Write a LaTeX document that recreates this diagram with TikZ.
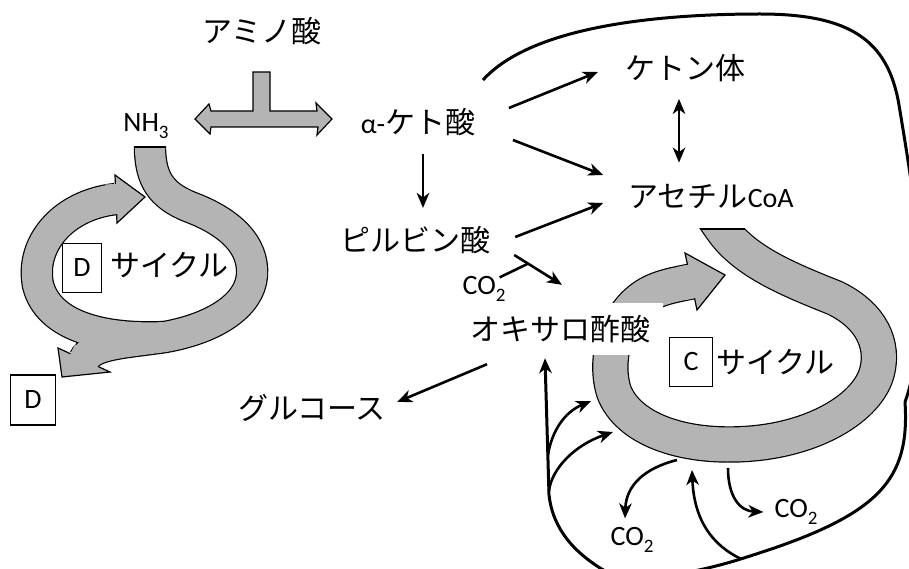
\documentclass[tikz,border=0pt]{standalone}
\usepackage{fontspec}
\setmainfont{Carlito}
\newfontfamily\jp{Noto Sans CJK JP}
\usetikzlibrary{arrows.meta}
\definecolor{bandgray}{RGB}{180,180,180}
\newcommand\lsub[1]{\raisebox{-0.5ex}{\fontsize{19}{19}\selectfont #1}}
\newcommand\J[1]{{\fontsize{30}{34}\selectfont\jp #1}}
\begin{document}
\begin{tikzpicture}[x=1pt,y=-1pt,
  every node/.style={font=\fontsize{28}{33}\selectfont, inner sep=2pt},
  jlbl/.style={font=\fontsize{30}{34}\selectfont\jp},
  tipst/.tip={Stealth[length=15pt,width=12.5pt,inset=4.5pt]},
  arr/.style={line width=2.6pt, -tipst},
  darr/.style={line width=2.6pt, tipst-tipst},
  plainline/.style={line width=2.6pt},
  outerline/.style={line width=3pt, -tipst},
  bandout/.style={line width=#1+2.4pt, draw=black, line cap=butt},
  bandin/.style={line width=#1, draw=bandgray, line cap=butt},
  headshape/.style={fill=bandgray, draw=black, line width=1.2pt, line join=miter},
  lbox/.style={draw, line width=1.2pt, fill=white, minimum width=#1, minimum height=49pt, inner sep=0pt},
]
\useasboundingbox (0,0) rectangle (909,569);
\clip (0,0) rectangle (909,569);

% ---------- D cycle band ----------
\begin{scope}
  \clip (0,147) rectangle (909,569);
  \draw[bandout=30pt] (150,120) -- (150,150) .. controls (151,178) and (160,195) .. (190,207)
     .. controls (230,222) and (254,245) .. (252,275) .. controls (250,305) and (215,328) .. (165,337)
     .. controls (125,343) and (91.6,343.6) .. (84,360);
  \draw[bandout=30pt] (165,337) .. controls (100,340) and (48,325) .. (38,285)
     .. controls (30,245) and (62,205) .. (116,199);
\end{scope}
\begin{scope}
  \clip (0,148.6) rectangle (909,569);
  \draw[bandin=30pt] (150,120) -- (150,150) .. controls (151,178) and (160,195) .. (190,207)
     .. controls (230,222) and (254,245) .. (252,275) .. controls (250,305) and (215,328) .. (165,337)
     .. controls (125,343) and (91.6,343.6) .. (84,360);
  \draw[bandin=30pt] (165,337) .. controls (100,340) and (48,325) .. (38,285)
     .. controls (30,245) and (62,205) .. (116,199);
\end{scope}
\draw[headshape] (115,175) -- (145,197) -- (117,223) -- cycle;
\draw[headshape] (58,348) -- (62,377) -- (110,372) -- cycle;
\draw[bandin=30pt] (106,199.4) -- (122,198.8);
\draw[bandin=30pt] (88.5,351) -- (81.5,365.5);

% ---------- C cycle band ----------
\begin{scope}
  \clip (0,229) rectangle (909,569);
  \draw[bandout=34pt] (706,206) -- (722,229) .. controls (745,262) and (790,280) .. (835,298)
     .. controls (872,316) and (884,345) .. (877,372) .. controls (868,407) and (815,440) .. (745,444)
     .. controls (680,448) and (628,428) .. (614,392) .. controls (604,360) and (615,320) .. (640,300)
     .. controls (655,288) and (671.4,285.6) .. (691,281.5);
\end{scope}
\begin{scope}
  \clip (0,230.6) rectangle (909,569);
  \draw[bandin=34pt] (706,206) -- (722,229) .. controls (745,262) and (790,280) .. (835,298)
     .. controls (872,316) and (884,345) .. (877,372) .. controls (868,407) and (815,440) .. (745,444)
     .. controls (680,448) and (628,428) .. (614,392) .. controls (604,360) and (615,320) .. (640,300)
     .. controls (655,288) and (671.4,285.6) .. (691,281.5);
\end{scope}
\draw[headshape] (685,253) -- (725,275) -- (697,310) -- cycle;
\draw[bandin=34pt] (681.2,283.6) -- (696.9,280.3);

% ---------- T-shaped double arrow ----------
\draw[headshape] (195,119) -- (209,104) -- (211,111) -- (253,111) -- (253,72) -- (270,72)
  -- (270,111) -- (317,111) -- (316,103) -- (332,119) -- (317,135) -- (318,127)
  -- (211,127) -- (210,134) -- cycle;

% ---------- labels ----------
\node[jlbl] (amino) at (262,31) {アミノ酸};
\node (nh3) at (146,126) {NH\lsub{3}};
\node (keto) at (418,122) {α-\J{ケト酸}};
\node[jlbl] (pyr) at (415,240) {ピルビン酸};
\node[jlbl] (ketone) at (685,68) {ケトン体};
\node (acoa) at (711,197) {\J{アセチル}CoA};
\node (co2a) at (484,289) {CO\lsub{2}};
\node[jlbl, fill=white, minimum width=206pt, minimum height=52pt, inner sep=0pt] (oxa) at (560,329) {オキサロ酢酸};
\node[jlbl] (glu) at (312,408) {グルコース};
\node[lbox=39pt] (dbox) at (82,268) {D};
\node[jlbl, anchor=west] (dcyc) at (108,265) {サイクル};
\node[lbox=45pt, minimum height=50pt] (dout) at (33,400) {D};
\node[lbox=43pt] (cbox) at (691,362) {C};
\node[jlbl, anchor=west] (ccyc) at (714,362) {サイクル};
\node (co2b) at (632,540) {CO\lsub{2}};
\node (co2c) at (796,512) {CO\lsub{2}};

% ---------- thin connectors ----------
\draw[arr] ([shift={(31.5,-14)}]keto.east) -- ([shift={(-25,4)}]ketone.west);
\draw[arr] ([shift={(35.5,18)}]keto.east) -- ([shift={(-23,-22)}]acoa.west);
\draw[arr] ([shift={(23,-3)}]pyr.east) -- ([shift={(-23,6)}]acoa.west);
\draw[arr] ([shift={(22,15)}]pyr.east) -- coordinate[pos=0.29] (j1) ([shift={(2,-18)}]oxa.north);
\draw[plainline] ([shift={(-8,3)}]co2a.north east) -- (j1);
\draw[arr] ([shift={(5,16)}]keto.south) -- ([shift={(8,-16)}]pyr.north);
\draw[darr] ([shift={(-6,15)}]ketone.south) -- ([shift={(-32,-20)}]acoa.north);
\draw[arr] ([shift={(-73,9)}]oxa.south) -- ([shift={(9,-6)}]glu.east);

% ---------- outer loop ----------
\coordinate (ostart) at (483,80);
\draw[outerline] (ostart) .. controls (530,28) and (650,14) .. (760,14)
  .. controls (850,14) and (888,40) .. (899,105)
  .. controls (908,160) and (922,240) .. (920,300)
  .. controls (918,350) and (913,380) .. (905,402)
  .. controls (910,480) and (880,515) .. (750,556)
  .. controls (690,576) and (625,585) .. coordinate[pos=0.05] (jb3) (600,568)
  .. controls (575,552) and (553,530) .. (549,495)
  -- coordinate[pos=0.29] (jb1) coordinate[pos=0.03] (jb2) ([shift={(-15,3)}]oxa.south);

\coordinate (cb1) at (591,401);
\coordinate (cb2) at (613,432);
\coordinate (cb3) at (692,470);
\draw[arr] (jb1) .. controls (552,430) and (565,412) .. (cb1);
\draw[arr] (jb2) .. controls (552,468) and (575,445) .. (cb2);
\draw[arr] (jb3) .. controls (712,545) and (694,520) .. (cb3);

% ---------- CO2 release ----------
\coordinate (cs1) at (677,460);
\coordinate (cs2) at (728,468);
\draw[arr] (cs1) .. controls (645,468) and (626,485) .. ([shift={(-7,-7)}]co2b.north);
\draw[arr] (cs2) .. controls (728,497) and (740,511) .. ([shift={(-9,0)}]co2c.west);
\end{tikzpicture}
\end{document}
